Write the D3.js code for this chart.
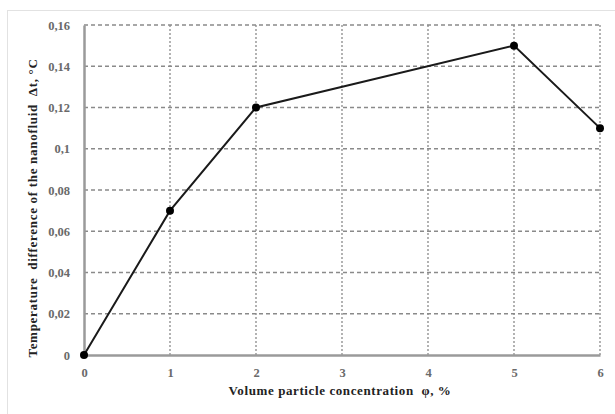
<!DOCTYPE html>
<html><head><meta charset="utf-8">
<script src="https://cdn.jsdelivr.net/npm/d3@7"></script>
<style>body{margin:0;background:#fff}svg{display:block}</style>
</head><body>
<script>
const xValues = [0, 1, 2, 5, 6];
const yValues = [0, 0.07, 0.12, 0.15, 0.11];
const xTicks = [0, 1, 2, 3, 4, 5, 6];
const yTicks = [0, 0.02, 0.04, 0.06, 0.08, 0.1, 0.12, 0.14, 0.16];
const xTitle = "Volume particle concentration  φ, %";
const yTitle = "Temperature  difference of the nanofluid  Δt, °C";

const W = 615, H = 414;
const svg = d3.select("body").append("svg").attr("width", W).attr("height", H);
svg.append("rect").attr("x", 7.5).attr("y", 10.5).attr("width", 620).attr("height", 420)
  .attr("fill", "#fff").attr("stroke", "#e2e2e2");

const x = d3.scaleLinear().domain([0, 6]).range([84, 600]);
const y = d3.scaleLinear().domain([0, 0.16]).range([355, 25]);
const fmt = d => d === 0 ? "0" : String(+d.toFixed(2)).replace(".", ",");
const font = "'Liberation Serif', 'Times New Roman', serif";

// grid
svg.append("g").selectAll("line").data(yTicks.filter(d => d > 0)).join("line")
  .attr("x1", x(0)).attr("x2", x(6)).attr("y1", d => y(d)).attr("y2", d => y(d))
  .attr("stroke", "#8a8a8a").attr("stroke-width", 1.3).attr("stroke-dasharray", "4,3");
svg.append("g").selectAll("line").data(xTicks.filter(d => d > 0)).join("line")
  .attr("x1", d => x(d)).attr("x2", d => x(d)).attr("y1", y(0)).attr("y2", y(0.16))
  .attr("stroke", "#8a8a8a").attr("stroke-width", 1.3).attr("stroke-dasharray", "2,2");

// axes
const xa = svg.append("g").attr("transform", `translate(0,${y(0)})`)
  .call(d3.axisBottom(x).tickValues(xTicks).tickSize(0).tickPadding(13).tickFormat(d3.format("d")));
const ya = svg.append("g").attr("transform", `translate(${x(0)},0)`)
  .call(d3.axisLeft(y).tickValues(yTicks).tickSize(0).tickPadding(14).tickFormat(fmt));
[xa, ya].forEach(a => {
  a.select(".domain").attr("stroke", "#9a9a9a").attr("stroke-width", 2.5);
  a.selectAll("text").attr("font-family", font).attr("font-size", 12.5)
    .attr("fill", "#6a6a6a").attr("font-weight", "bold");
});

// line
svg.append("path").datum(xValues.map((d, i) => [d, yValues[i]]))
  .attr("fill", "none").attr("stroke", "#1a1a1a").attr("stroke-width", 2)
  .attr("d", d3.line().x(d => x(d[0])).y(d => y(d[1])));
svg.append("g").selectAll("circle").data(xValues.map((d, i) => [d, yValues[i]])).join("circle")
  .attr("cx", d => x(d[0])).attr("cy", d => y(d[1])).attr("r", 4).attr("fill", "#000");

// titles
svg.append("text").attr("x", 340).attr("y", 395).attr("text-anchor", "middle")
  .attr("font-family", font).attr("font-weight", "bold").attr("font-size", 13)
  .attr("letter-spacing", 0.6)
  .attr("fill", "#222").style("white-space", "pre").text(xTitle);
svg.append("text").attr("transform", "translate(37,208) rotate(-90)").attr("text-anchor", "middle")
  .attr("font-family", font).attr("font-weight", "bold").attr("font-size", 13)
  .attr("letter-spacing", 0.7)
  .attr("fill", "#222").style("white-space", "pre").text(yTitle);
</script>
</body></html>
